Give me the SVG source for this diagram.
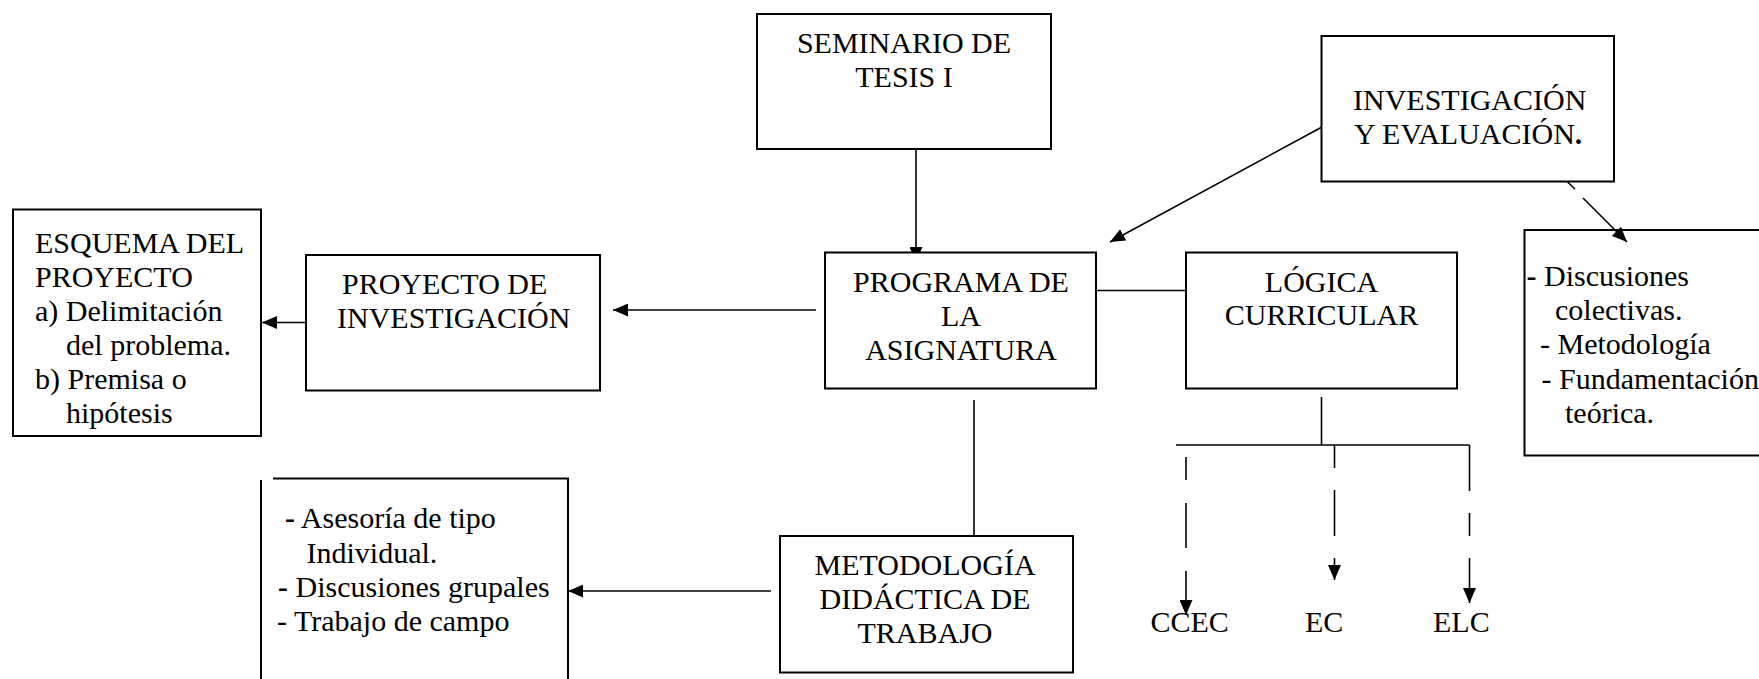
<svg xmlns="http://www.w3.org/2000/svg" width="1759" height="679" viewBox="0 0 1759 679">
<defs>
<style>
.box{fill:#fff;stroke:#000;stroke-width:2}
.edge{fill:none;stroke:#000;stroke-width:2}
.t{font-family:"Liberation Serif","Times New Roman",serif;font-size:30px;fill:#000}
.c{text-anchor:middle}
.cn{fill:none;stroke:#000;stroke-width:1.6}
.b{font-weight:bold}
</style>
<marker id="ah" markerUnits="userSpaceOnUse" viewBox="0 0 15 13" markerWidth="15" markerHeight="13" refX="15" refY="6.5" orient="auto">
<path d="M0,0 L15,6.5 L0,13 z" fill="#000"/>
</marker>
</defs>
<rect width="1759" height="679" fill="#fff"/>

<g id="connectors">
<line class="cn" x1="916" y1="149" x2="916" y2="262" marker-end="url(#ah)"/>
<line class="cn" x1="1322" y1="127" x2="1110" y2="242" marker-end="url(#ah)"/>
<line class="cn" x1="1559" y1="174" x2="1575" y2="189"/>
<line class="cn" x1="1583" y1="198" x2="1627" y2="242" marker-end="url(#ah)"/>
<line class="cn" x1="816" y1="310" x2="613" y2="310" marker-end="url(#ah)"/>
<line class="cn" x1="306" y1="322.5" x2="262" y2="322.5" marker-end="url(#ah)"/>
<line class="cn" x1="1086" y1="290.5" x2="1186" y2="290.5"/>
<line class="cn" x1="974" y1="400" x2="974" y2="536"/>
<line class="cn" x1="771" y1="591" x2="568" y2="591" marker-end="url(#ah)"/>
<line class="cn" x1="1321.5" y1="397" x2="1321.5" y2="445"/>
<line class="cn" x1="1176" y1="445" x2="1469.5" y2="445"/>
<line class="cn" x1="1469.5" y1="445" x2="1469.5" y2="491"/>
<line class="cn" x1="1469.5" y1="513" x2="1469.5" y2="536"/>
<line class="cn" x1="1469.5" y1="558" x2="1469.5" y2="603" marker-end="url(#ah)"/>
<line class="cn" x1="1334.5" y1="445" x2="1334.5" y2="468"/>
<line class="cn" x1="1334.5" y1="490" x2="1334.5" y2="536"/>
<line class="cn" x1="1334.5" y1="558" x2="1334.5" y2="580" marker-end="url(#ah)"/>
<line class="cn" x1="1186" y1="457" x2="1186" y2="480"/>
<line class="cn" x1="1186" y1="503" x2="1186" y2="548"/>
<line class="cn" x1="1186" y1="571" x2="1186" y2="615" marker-end="url(#ah)"/>
</g>

<g id="seminario">
<rect class="box" x="757" y="14" width="294" height="135"/>
<text class="t c" x="904" y="53">SEMINARIO DE</text>
<text class="t c" x="904" y="87">TESIS I</text>
</g>

<g id="investigacion-evaluacion">
<rect class="box" x="1321.5" y="36" width="292.5" height="145.5"/>
<text class="t" x="1353" y="110">INVESTIGACIÓN</text>
<text class="t" x="1354" y="144">Y EVALUACIÓN<tspan class="b">.</tspan></text>
</g>

<g id="esquema">
<rect class="box" x="13" y="209.5" width="248" height="226.5"/>
<text class="t" x="35" y="253">ESQUEMA DEL</text>
<text class="t" x="35" y="287">PROYECTO</text>
<text class="t" x="35" y="321">a) Delimitación</text>
<text class="t" x="66" y="355">del problema.</text>
<text class="t" x="35" y="389">b) Premisa o</text>
<text class="t" x="66" y="423">hipótesis</text>
</g>

<g id="proyecto">
<rect class="box" x="306" y="255" width="294" height="135.5"/>
<text class="t" x="342" y="294">PROYECTO DE</text>
<text class="t" x="337" y="328">INVESTIGACIÓN</text>
</g>

<g id="programa">
<rect class="box" x="825" y="252.5" width="271" height="136"/>
<text class="t c" x="961" y="292">PROGRAMA DE</text>
<text class="t c" x="961" y="326">LA</text>
<text class="t c" x="961" y="360">ASIGNATURA</text>
</g>

<g id="logica">
<rect class="box" x="1186" y="252.5" width="271" height="136"/>
<text class="t c" x="1321.5" y="292">LÓGICA</text>
<text class="t c" x="1321.5" y="325">CURRICULAR</text>
</g>

<g id="discusiones-colectivas">
<path class="edge" d="M1790,230 H1524.5 V455.5 H1790"/>
<text class="t" x="1526.5" y="286"><tspan class="b">-</tspan> Discusiones</text>
<text class="t" x="1555" y="320">colectivas.</text>
<text class="t" x="1540" y="354">- Metodología</text>
<text class="t" x="1541.5" y="389">- Fundamentación</text>
<text class="t" x="1565" y="423">teórica.</text>
</g>

<g id="asesoria">
<path class="edge" d="M261,480 V690"/>
<path class="edge" d="M273,478.5 H568 V690"/>
<text class="t" x="285" y="528"><tspan class="b">-</tspan> Asesoría de tipo</text>
<text class="t" x="306.5" y="563">Individual.</text>
<text class="t" x="278" y="597"><tspan class="b">-</tspan> Discusiones grupales</text>
<text class="t" x="277" y="631">- Trabajo de campo</text>
</g>

<g id="metodologia">
<rect class="box" x="780" y="536" width="293" height="136.5"/>
<text class="t c" x="925" y="575">METODOLOGÍA</text>
<text class="t c" x="925" y="609">DIDÁCTICA DE</text>
<text class="t c" x="925" y="643">TRABAJO</text>
</g>

<g id="ccec"><text class="t" x="1150.5" y="632">CCEC</text></g>
<g id="ec"><text class="t" x="1305" y="632">EC</text></g>
<g id="elc"><text class="t" x="1433" y="632">ELC</text></g>
</svg>
